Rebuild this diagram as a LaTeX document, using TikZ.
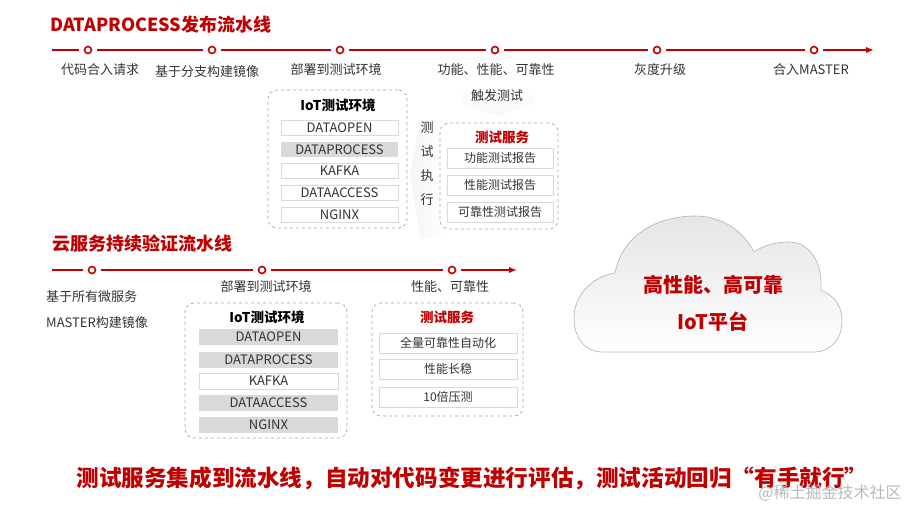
\documentclass[tikz,border=0pt]{standalone}
\usepackage{fontspec}
\setmainfont{Noto Sans CJK SC}
\usetikzlibrary{arrows.meta, positioning, shapes.geometric}
\definecolor{pipered}{RGB}{192,0,0}
\definecolor{rowgrey}{RGB}{217,217,217}
\definecolor{labelgrey}{RGB}{51,51,51}
\tikzset{
  pipetitle/.style={font=\fontsize{18}{20}\selectfont\bfseries, text=pipered, inner sep=0pt},
  pipeline/.style={draw=pipered, line width=2pt, shorten <=5pt, shorten >=5pt},
  stage/.style={circle, draw=pipered, line width=1.6pt, fill=white, inner sep=0pt, minimum size=7pt},
  steplabel/.style={font=\fontsize{13}{15}\selectfont, text=labelgrey, inner sep=0pt},
  groupbox/.style={draw=gray!70, dashed, rounded corners=9pt, line width=0.7pt},
  boxtitle/.style={font=\fontsize{13.5}{15}\selectfont\bfseries, inner sep=0pt},
  rowbox/.style={draw=gray!30, fill=white, inner sep=0pt, font=\fontsize{13}{14}\selectfont, text=labelgrey},
  rowfill/.style={fill=rowgrey, inner sep=0pt, font=\fontsize{13}{14}\selectfont, text=labelgrey},
  cloudtext/.style={font=\fontsize{20}{22}\selectfont\bfseries, text=pipered, inner sep=0pt}
}

\begin{document}
\begin{tikzpicture}[x=1pt, y=-1pt]
  \useasboundingbox (0,0) rectangle (917,506);

  % faint hint arrows
  \shade[top color=white, bottom color=gray!6] (462,86) -- (534,86) -- (534,104) -- (497,116) -- (462,104) -- cycle;
  \shade[left color=gray!8, right color=white] (446,120) -- (420,120) -- (410,175) -- (420,238) -- (446,238) -- (436,175) -- cycle;

  % DATAPROCESS pipeline
  \node[pipetitle, anchor=west] (title1) at (50,25) {DATAPROCESS发布流水线};
  \coordinate (p1start) at (47,50);
  \coordinate (p1end) at (874,50);
  \node[stage] (p1a) at (88,50) {};
  \node[stage] (p1b) at (212,50) {};
  \node[stage] (p1c) at (340,50) {};
  \node[stage] (p1d) at (495,50) {};
  \node[stage] (p1e) at (657,50) {};
  \node[stage] (p1f) at (814,50) {};
  \draw[pipeline] (p1start) -- (p1a);
  \draw[pipeline] (p1a) -- (p1b);
  \draw[pipeline] (p1b) -- (p1c);
  \draw[pipeline] (p1c) -- (p1d);
  \draw[pipeline] (p1d) -- (p1e);
  \draw[pipeline] (p1e) -- (p1f);
  \draw[pipeline, shorten >=0pt, -{Latex[length=8pt, width=6.5pt]}] (p1f) -- (p1end);

  \node[steplabel] (l1a) at (100,70) {代码合入请求};
  \node[steplabel] (l1b) at (207,72) {基于分支构建镜像};
  \node[steplabel] (l1c) at (336,70) {部署到测试环境};
  \node[steplabel] (l1d) at (496,70) {功能、性能、可靠性};
  \node[steplabel] (l1e) at (660,70) {灰度升级};
  \node[steplabel] (l1f) at (811,70) {合入MASTER};
  \node[steplabel] (trigger) at (497,96) {触发测试};

  % IoT test environment (upper)
  \node[groupbox, minimum width=139pt, minimum height=138pt] (env1) at (337.5,159) {};
  \node[boxtitle] (env1title) at (338,105) {IoT测试环境};
  \node[rowbox, minimum width=117pt, minimum height=15pt] (e1a) at (339.5,127.5) {DATAOPEN};
  \node[rowfill, minimum width=117pt, minimum height=15pt] (e1b) at (339.5,149.5) {DATAPROCESS};
  \node[rowbox, minimum width=117pt, minimum height=15pt] (e1c) at (339.5,170.5) {KAFKA};
  \node[rowbox, minimum width=117pt, minimum height=15pt] (e1d) at (339.5,192.5) {DATAACCESS};
  \node[rowbox, minimum width=117pt, minimum height=15pt] (e1e) at (339.5,214.5) {NGINX};

  \node[steplabel, align=center, font=\fontsize{13}{24}\selectfont] (exec) at (427,164) {测\\试\\执\\行};

  % test service (upper)
  \node[groupbox, minimum width=118pt, minimum height=106pt] (svc1) at (499,176) {};
  \node[boxtitle, text=pipered] (svc1title) at (502,137) {测试服务};
  \node[rowbox, minimum width=106pt, minimum height=20pt, font=\fontsize{12}{14}\selectfont] (s1a) at (500,158) {功能测试报告};
  \node[rowbox, minimum width=106pt, minimum height=20pt, font=\fontsize{12}{14}\selectfont] (s1b) at (500,185) {性能测试报告};
  \node[rowbox, minimum width=106pt, minimum height=20pt, font=\fontsize{12}{14}\selectfont] (s1c) at (500,212) {可靠性测试报告};

  % cloud service pipeline
  \node[pipetitle, anchor=west] (title2) at (52,244) {云服务持续验证流水线};
  \coordinate (p2start) at (47,270);
  \coordinate (p2end) at (517,270);
  \node[stage] (p2a) at (92,270) {};
  \node[stage] (p2b) at (262,270) {};
  \node[stage] (p2c) at (452,270) {};
  \draw[pipeline] (p2start) -- (p2a);
  \draw[pipeline] (p2a) -- (p2b);
  \draw[pipeline] (p2b) -- (p2c);
  \draw[pipeline, shorten >=0pt, -{Latex[length=8pt, width=6.5pt]}] (p2c) -- (p2end);

  \node[steplabel, anchor=west] (l2a) at (46,297) {基于所有微服务};
  \node[steplabel, anchor=west] (l2b) at (46,323) {MASTER构建镜像};
  \node[steplabel] (l2c) at (266,287) {部署到测试环境};
  \node[steplabel] (l2d) at (450,287) {性能、可靠性};

  % IoT test environment (lower)
  \node[groupbox, minimum width=162pt, minimum height=135pt] (env2) at (266,370.5) {};
  \node[boxtitle] (env2title) at (267,317) {IoT测试环境};
  \node[rowfill, minimum width=139pt, minimum height=16pt] (e2a) at (268.5,337) {DATAOPEN};
  \node[rowfill, minimum width=139pt, minimum height=16pt] (e2b) at (268.5,359.5) {DATAPROCESS};
  \node[rowbox, minimum width=139pt, minimum height=16pt] (e2c) at (268.5,381) {KAFKA};
  \node[rowfill, minimum width=139pt, minimum height=16pt] (e2d) at (268.5,403) {DATAACCESS};
  \node[rowfill, minimum width=139pt, minimum height=16pt] (e2e) at (268.5,424.5) {NGINX};

  % test service (lower)
  \node[groupbox, minimum width=151pt, minimum height=113pt] (svc2) at (447.5,359.5) {};
  \node[boxtitle, text=pipered] (svc2title) at (447,317) {测试服务};
  \node[rowbox, minimum width=138pt, minimum height=20pt, font=\fontsize{12}{14}\selectfont] (s2a) at (448,343) {全量可靠性自动化};
  \node[rowbox, minimum width=138pt, minimum height=20pt, font=\fontsize{12}{14}\selectfont] (s2b) at (448,369) {性能长稳};
  \node[rowbox, minimum width=138pt, minimum height=20pt, font=\fontsize{12}{14}\selectfont] (s2c) at (448,397) {10倍压测};

  % cloud
  \shade[top color=gray!20, bottom color=white, draw=gray!60, line width=0.6pt]
    (603,352) .. controls (585,352) and (574,338) .. (574,318)
    .. controls (574,294) and (594,276) .. (615,273)
    .. controls (622,236) and (656,216) .. (695,216)
    .. controls (723,216) and (744,232) .. (754,252)
    .. controls (764,245) and (776,242) .. (789,242)
    .. controls (809,242) and (823,262) .. (821,290)
    .. controls (835,296) and (842,307) .. (842,320)
    .. controls (842,340) and (830,352) .. (814,352) -- cycle;
  \node[cloudtext] (cloud1) at (713,285) {高性能、高可靠};
  \node[cloudtext] (cloud2) at (713,322) {IoT平台};

  % summary
  \node[font=\fontsize{22.6}{24}\selectfont\bfseries, text=pipered, inner sep=0pt] (summary) at (472,478) {测试服务集成到流水线，自动对代码变更进行评估，测试活动回归“有手就行”};
  \node[font=\fontsize{16}{18}\selectfont, text=gray!55, inner sep=0pt] (mark) at (830,493) {@稀土掘金技术社区};
\end{tikzpicture}
\end{document}
